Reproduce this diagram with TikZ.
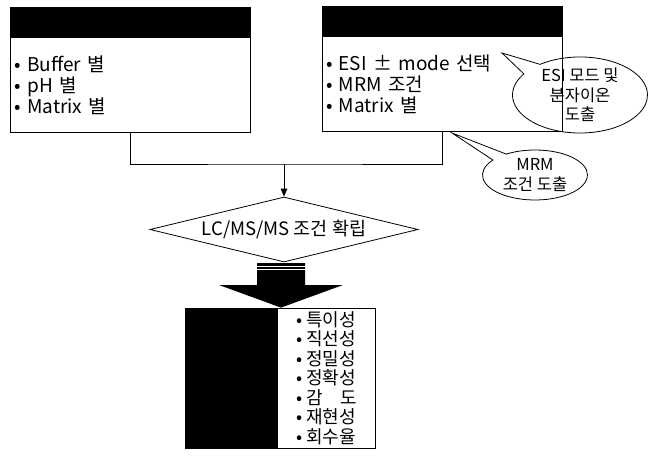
\documentclass[tikz,border=0pt]{standalone}
\usepackage{fontspec}
\setmainfont{Noto Sans CJK KR}
\usetikzlibrary{shapes,arrows,positioning,calc}
\tikzset{>=triangle 45}
\tikzstyle{header} = [rectangle, draw, fill=black, minimum width=240pt, minimum
height=30pt, inner sep=0pt]
\tikzstyle{listbox} = [rectangle, draw, align=left, text width=232pt, minimum
width=240pt, minimum height=95pt, inner xsep=4pt, inner ysep=0pt,
font=\fontsize{19}{21}\selectfont]
\tikzstyle{darkbox} = [rectangle, draw, fill=black, minimum width=92pt, minimum
height=140pt, inner sep=0pt]
\tikzstyle{resultbox} = [rectangle, draw, align=left, minimum width=98pt, minimum
height=140pt, inner sep=0pt, font=\fontsize{18}{19.5}\selectfont]
\tikzstyle{decision} = [diamond, draw, aspect=4.1, minimum width=268pt, minimum
height=65pt, inner sep=0pt, font=\fontsize{18.5}{20}\selectfont]
\tikzstyle{note} = [ellipse callout, draw, align=center, inner sep=0pt,
callout pointer arc=20, font=\fontsize{16.5}{19.5}\selectfont]
\tikzstyle{line} = [draw,->]
\tikzstyle{lineC} = [draw]

\begin{document}
\begin{tikzpicture}[x=1pt,y=-1pt,line width=0.8pt]

   \useasboundingbox (0,0) rectangle (654,460);

   % Input boxes
   \node[header] (hdrL) at (130.5,22) {};
   \node[listbox] (bodyL) [below=0pt of hdrL] {• Buffer 별\\• pH 별\\• Matrix 별};

   \node[header] (hdrR) at (442,21) {};
   \node[listbox] (bodyR) [below=0pt of hdrR] {• ESI ± mode 선택\\• MRM 조건\\• Matrix 별};

   % Merging lines
   \coordinate (merge) at (284,164);
   \path[lineC] (bodyL.south) |- (merge) -| (bodyR.south);

   \node[decision] (diam) at (284,229.5) {LC/MS/MS 조건 확립};
   \path[line] (merge) -- (diam.north);

   % Result box
   \node[darkbox] (resDark) at (231,378) {};
   \node[resultbox] (resList) [right=0pt of resDark]
      {• 특이성\\• 직선성\\• 정밀성\\• 정확성\\• 감\hspace{1em}도\\• 재현성\\• 회수율};

   % Thick arrow
   \coordinate (bigTop) at (281,263);
   \coordinate (bigTip) at (bigTop |- resDark.north);
   \fill ($(bigTop)+(-24,0)$) -- ($(bigTop)+(24,0)$) -- ($(bigTop)+(24,22)$)
      -- ($(bigTop)+(62,22)$) -- (bigTip) -- ($(bigTop)+(-62,22)$)
      -- ($(bigTop)+(-24,22)$) -- cycle;
   \draw[white,line width=0.6pt] ($(bigTop)+(-24,3)$) -- ($(bigTop)+(24,3)$);
   \draw[white,line width=0.6pt] ($(bigTop)+(-24,6)$) -- ($(bigTop)+(24,6)$);

   % Callouts
   \coordinate (tipA) at (502,53);
   \coordinate (tipB) at (452,133);
   \node[note, minimum width=135pt, minimum height=65pt,
      callout absolute pointer={(tipA)}] (noteA) at (580,95)
      {ESI 모드 및\\분자이온\\도출};
   \node[note, minimum width=105pt, minimum height=50pt,
      callout absolute pointer={(tipB)}] (noteB) at (535,175)
      {MRM\\조건 도출};

\end{tikzpicture}
\end{document}
